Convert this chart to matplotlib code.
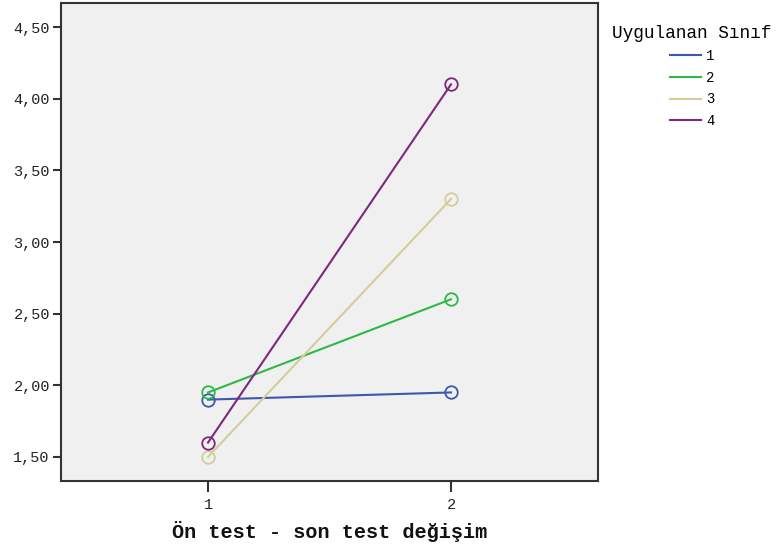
import matplotlib
matplotlib.use("Agg")
import matplotlib.pyplot as plt
from matplotlib.ticker import FuncFormatter

groups = ["1", "2", "3", "4"]
x_points = [1, 2]
means = {
    "1": [1.90, 1.95],
    "2": [1.95, 2.60],
    "3": [1.50, 3.30],
    "4": [1.60, 4.10],
}
colors = {"1": "#3E58AC", "2": "#2EB848", "3": "#D3CE97", "4": "#7C287D"}
y_ticks = [1.5, 2.0, 2.5, 3.0, 3.5, 4.0, 4.5]
x_label = "Ön test - son test değişim"
legend_title = "Uygulanan Sınıf"

plt.rcParams['font.family'] = ['Liberation Mono', 'DejaVu Sans Mono']

fig = plt.figure(figsize=(7.8, 5.46), dpi=100)
ax = fig.add_axes([61/780, 1-481/546, (598-61)/780, (481-3)/546])
ax.set_facecolor("#f0f0f0")

for g in groups:
    ax.plot(x_points, means[g], color=colors[g], lw=1.5, marker='o',
            markersize=9, markerfacecolor='none', markeredgecolor=colors[g],
            markeredgewidth=1.3, label=g)

ax.set_xlim(0.395, 2.605)
ax.set_ylim(1.332, 4.668)
ax.set_yticks(y_ticks)
ax.yaxis.set_major_formatter(FuncFormatter(lambda v, p: f"{v:.2f}".replace('.', ',')))
ax.set_xticks(x_points)
ax.set_xticklabels([str(v) for v in x_points])

for s in ax.spines.values():
    s.set_color("#333333")
    s.set_linewidth(1.5)

ax.tick_params(axis='y', direction='out', length=6, width=1.5, color='#333333',
               labelsize=11, pad=2, labelcolor='#222222')
ax.tick_params(axis='x', direction='out', length=8, width=1.5, color='#333333',
               labelsize=11, pad=4, labelcolor='#222222')

ax.set_xlabel(x_label, fontsize=14.5, fontweight='bold', labelpad=7, color='#111111')

leg = ax.legend(loc='upper left', bbox_to_anchor=(600/780, 1-12/546),
                bbox_transform=fig.transFigure, frameon=False, title=legend_title,
                fontsize=10, title_fontproperties={'size': 12.8, 'family': ['Liberation Mono']},
                handlelength=2.2, labelspacing=0.55, handletextpad=0.4)
for h in leg.legend_handles:
    h.set_marker('')
leg._legend_box.align = "center"

fig.savefig("out.png", dpi=100, facecolor='white')
